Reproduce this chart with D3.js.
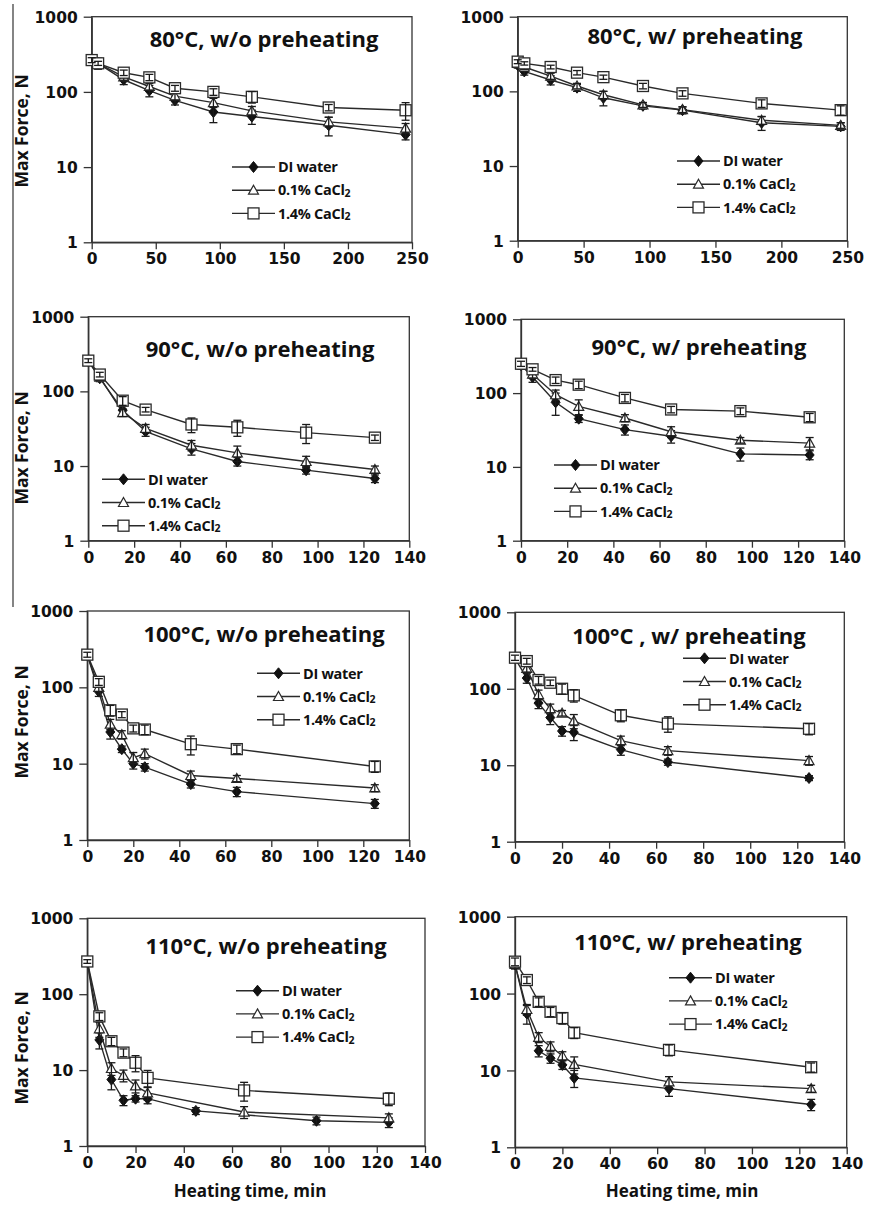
<!DOCTYPE html>
<html>
<head>
<meta charset="utf-8">
<script src="https://cdn.jsdelivr.net/npm/d3@7"></script>
<style>
  body { margin: 0; background: #fff; }
  text { fill: #111; }
</style>
</head>
<body>
<svg id="chart" width="869" height="1206"></svg>
<script>
// legend names (the "2" of CaCl2 is drawn as a small tspan)
var seriesNames = ["DI water", "0.1% CaCl", "1.4% CaCl"];
var yTicks = [1, 10, 100, 1000];
var xTicks80 = [0, 50, 100, 150, 200, 250];
var xTicks140 = [0, 20, 40, 60, 80, 100, 120, 140];

// 80°C
var t80 = [0, 5, 25, 45, 65, 95, 125, 185, 245];
var di80wo = [265, 240, 145, 104, 77, 54, 47, 36, 27];
var ca01_80wo = [265, 240, 158, 118, 88, 72, 56, 40, 33];
var ca14_80wo = [265, 240, 180, 156, 112, 100, 86, 62, 57];
var di80wo_sd = [25, 40, 20, 18, 10, 15, 10, 10, 4];
var ca01_80wo_sd = [20, 25, 15, 12, 10, 10, 8, 6, 5];
var ca14_80wo_sd = [20, 15, 15, 15, 10, 10, 15, 6, 15];

var di80w = [225, 185, 142, 112, 82, 64, 56, 38, 34];
var ca01_80w = [237, 212, 160, 118, 90, 66, 57, 41, 35];
var ca14_80w = [250, 237, 212, 178, 155, 118, 94, 69, 56];
var di80w_sd = [20, 20, 20, 12, 18, 6, 6, 8, 4];
var ca01_80w_sd = [15, 15, 15, 10, 10, 5, 5, 5, 3];
var ca14_80w_sd = [15, 12, 12, 12, 10, 10, 8, 8, 8];

// 90°C
var t90 = [0, 5, 15, 25, 45, 65, 95, 125];
var di90wo = [255, 150, 56, 29, 17, 11.5, 8.8, 6.8];
var ca01_90wo = [255, 155, 52, 32, 19, 15, 11.5, 9];
var ca14_90wo = [258, 168, 75, 57, 36, 33, 28, 24];
var di90wo_sd = [15, 15, 8, 4, 3, 1.5, 1, 0.8];
var ca01_90wo_sd = [15, 15, 6, 4, 3, 3.5, 2, 1];
var ca14_90wo_sd = [15, 12, 10, 4, 8, 8, 8, 2];

var di90w = [240, 165, 75, 45, 32, 26, 15, 14.5];
var ca01_90w = [245, 180, 95, 66, 46, 30, 23, 21];
var ca14_90w = [250, 210, 150, 130, 86, 60, 57, 47];
var di90w_sd = [30, 25, 25, 5, 5, 5, 3, 2];
var ca01_90w_sd = [20, 20, 15, 15, 5, 5, 2, 4];
var ca14_90w_sd = [20, 12, 15, 15, 10, 6, 6, 6];

// 100°C
var t100 = [0, 5, 10, 15, 20, 25, 45, 65, 125];
var di100wo = [265, 88, 26, 15.5, 10, 9, 5.4, 4.3, 3.0];
var ca01_100wo = [265, 100, 33, 24, 12, 13.5, 7, 6.4, 4.8];
var ca14_100wo = [268, 118, 50, 44, 29, 28, 18, 15.5, 9.2];
var di100wo_sd = [20, 12, 5, 1.5, 1.5, 1, 0.6, 0.6, 0.4];
var ca01_100wo_sd = [20, 12, 5, 3, 2, 2, 1, 0.6, 0.5];
var ca14_100wo_sd = [20, 12, 8, 4, 3, 4, 5, 2, 1.5];

var di100w = [250, 138, 65, 42, 28, 27, 16, 11, 6.8];
var ca01_100w = [255, 185, 84, 55, 48, 38, 21, 15.5, 11.5];
var ca14_100w = [255, 230, 130, 120, 100, 82, 45, 35, 30];
var di100w_sd = [20, 20, 10, 8, 4, 6, 2.5, 1, 0.5];
var ca01_100w_sd = [20, 20, 12, 8, 4, 8, 3, 2, 1.5];
var ca14_100w_sd = [20, 20, 15, 10, 15, 15, 8, 8, 5];

// 110°C
var t110di = [0, 5, 10, 15, 20, 25, 45, 95, 125];
var t110 = [0, 5, 10, 15, 20, 25, 65, 125];
var di110wo = [268, 25, 7.5, 4.0, 4.2, 4.2, 2.9, 2.15, 2.05];
var ca01_110wo = [268, 35, 10.5, 8.5, 6.2, 5.0, 2.8, 2.35];
var ca14_110wo = [270, 51, 24, 17, 12.5, 7.9, 5.4, 4.2];
var di110wo_sd = [20, 6, 2, 0.6, 0.4, 0.6, 0.3, 0.25, 0.3];
var ca01_110wo_sd = [15, 8, 2, 1.5, 1.2, 1, 0.5, 0.3];
var ca14_110wo_sd = [15, 6, 3, 2, 3, 2, 1.5, 0.8];

var di110w = [240, 55, 18, 14.4, 11.8, 8.0, 5.8, 3.6];
var ca01_110w = [240, 62, 27, 20.5, 15.5, 12, 7.1, 5.8];
var ca14_110w = [260, 150, 78, 58, 48, 31, 18.5, 11];
var di110w_sd = [30, 15, 3, 2, 1.5, 2, 1.2, 0.6];
var ca01_110w_sd = [30, 10, 4, 3, 2, 3, 1.2, 0.6];
var ca14_110w_sd = [30, 15, 10, 8, 8, 5, 3, 1.5];

var shapes = ["diamond", "triangle", "square"];

function trio(tA, a, ae, tB, b, be, tC, c, ce) {
    return [{t: tA, v: a, e: ae}, {t: tB, v: b, e: be}, {t: tC, v: c, e: ce}];
}

var panels = [
    {title: "80°C, w/o preheating", tx: 264, ty: 47, l: 91.7, r: 412, t: 16.7, b: 242.3, xMax: 250, xTicks: xTicks80,
     lx: 232, ly: 167, yLabel: 131,
     series: trio(t80, di80wo, di80wo_sd, t80, ca01_80wo, ca01_80wo_sd, t80, ca14_80wo, ca14_80wo_sd)},
    {title: "80°C, w/ preheating", tx: 695, ty: 43.5, l: 517.7, r: 847.3, t: 16.7, b: 240.7, xMax: 250, xTicks: xTicks80,
     lx: 677, ly: 161,
     series: trio(t80, di80w, di80w_sd, t80, ca01_80w, ca01_80w_sd, t80, ca14_80w, ca14_80w_sd)},
    {title: "90°C, w/o preheating", tx: 260, ty: 357, l: 88.3, r: 409.3, t: 316.7, b: 540.7, xMax: 140, xTicks: xTicks140,
     lx: 102, ly: 479.3, yLabel: 448,
     series: trio(t90, di90wo, di90wo_sd, t90, ca01_90wo, ca01_90wo_sd, t90, ca14_90wo, ca14_90wo_sd)},
    {title: "90°C, w/ preheating", tx: 699, ty: 355, l: 521, r: 844.3, t: 319.3, b: 540.7, xMax: 140, xTicks: xTicks140,
     lx: 554, ly: 465,
     series: trio(t90, di90w, di90w_sd, t90, ca01_90w, ca01_90w_sd, t90, ca14_90w, ca14_90w_sd)},
    {title: "100°C, w/o preheating", tx: 264, ty: 642, l: 87.3, r: 409.3, t: 611, b: 840, xMax: 140, xTicks: xTicks140,
     lx: 257, ly: 673.3, yLabel: 722,
     series: trio(t100, di100wo, di100wo_sd, t100, ca01_100wo, ca01_100wo_sd, t100, ca14_100wo, ca14_100wo_sd)},
    {title: "100°C , w/ preheating", tx: 689, ty: 643.5, l: 515, r: 844.3, t: 612.3, b: 841.7, xMax: 140, xTicks: xTicks140,
     lx: 683, ly: 658.3,
     series: trio(t100, di100w, di100w_sd, t100, ca01_100w, ca01_100w_sd, t100, ca14_100w, ca14_100w_sd)},
    {title: "110°C, w/o preheating", tx: 266, ty: 953.5, l: 87.3, r: 425, t: 918.3, b: 1146, xMax: 140, xTicks: xTicks140,
     lx: 236, ly: 990.7, yLabel: 1048, xLabel: 250,
     series: trio(t110di, di110wo, di110wo_sd, t110, ca01_110wo, ca01_110wo_sd, t110, ca14_110wo, ca14_110wo_sd)},
    {title: "110°C, w/ preheating", tx: 688, ty: 950, l: 515, r: 846.7, t: 916.7, b: 1147.3, xMax: 140, xTicks: xTicks140,
     lx: 669, ly: 977.7, xLabel: 682,
     series: trio(t110, di110w, di110w_sd, t110, ca01_110w, ca01_110w_sd, t110, ca14_110w, ca14_110w_sd)}
];

var ink = "#2a2a2a";
var svg = d3.select("#chart");

// thin rule along the left edge of the upper half
svg.append("line").attr("x1", 13).attr("x2", 13).attr("y1", 4).attr("y2", 607)
    .attr("stroke", "#333").attr("stroke-width", 1.2);

function marker(sel, shape) {
    if (shape === "diamond") {
        sel.append("path").attr("d", "M0,-5.5L4.5,0L0,5.5L-4.5,0Z").attr("fill", "#111").attr("stroke", "#111");
    } else if (shape === "triangle") {
        sel.append("path").attr("d", "M0,-5L5,4L-5,4Z").attr("fill", "#fff").attr("stroke", ink).attr("stroke-width", 1.2);
    } else {
        sel.append("rect").attr("x", -5.5).attr("y", -5.5).attr("width", 11).attr("height", 11)
            .attr("fill", "#fff").attr("stroke", ink).attr("stroke-width", 1.3);
    }
}

panels.forEach(function (p) {
    var x = d3.scaleLinear().domain([0, p.xMax]).range([p.l, p.r]);
    var y = d3.scaleLog().domain([1, 1000]).range([p.b, p.t]);
    var g = svg.append("g");

    g.append("rect").attr("x", p.l).attr("y", p.t).attr("width", p.r - p.l).attr("height", p.b - p.t)
        .attr("fill", "none").attr("stroke", "#333").attr("stroke-width", 1.3);

    var xa = g.append("g").attr("transform", "translate(0," + p.b + ")")
        .call(d3.axisBottom(x).tickValues(p.xTicks).tickSize(7).tickSizeOuter(0).tickPadding(4).tickFormat(d3.format("d")));
    var ya = g.append("g").attr("transform", "translate(" + p.l + ",0)")
        .call(d3.axisLeft(y).tickValues(yTicks).tickSize(8).tickSizeOuter(0).tickPadding(6).tickFormat(d3.format("d")));
    [xa, ya].forEach(function (a) {
        a.selectAll("path, line").attr("stroke", "#333").attr("stroke-width", 1.3);
        a.selectAll("text").attr("font-family", "DejaVu Sans").attr("font-weight", "bold")
            .attr("font-size", 15.5).attr("fill", "#111");
    });
    ya.selectAll("text").attr("dy", "0.36em");

    var line = d3.line().x(function (d) { return x(d.t); }).y(function (d) { return y(d.v); });

    p.series.forEach(function (s, i) {
        var pts = s.t.map(function (t, k) { return {t: t, v: s.v[k], e: s.e[k]}; });
        g.append("path").datum(pts).attr("d", line).attr("fill", "none")
            .attr("stroke", ink).attr("stroke-width", 1.4);
        pts.forEach(function (d) {
            marker(g.append("g").attr("transform", "translate(" + x(d.t) + "," + y(d.v) + ")"), shapes[i]);
        });
        var eb = g.append("g").attr("stroke", "#1a1a1a").attr("stroke-width", 1.3);
        pts.forEach(function (d) {
            var cx = x(d.t), y1 = y(d.v + d.e), y2 = y(Math.max(d.v - d.e, 1.01));
            eb.append("line").attr("x1", cx).attr("x2", cx).attr("y1", y1).attr("y2", y2);
            eb.append("line").attr("x1", cx - 4).attr("x2", cx + 4).attr("y1", y1).attr("y2", y1);
            eb.append("line").attr("x1", cx - 4).attr("x2", cx + 4).attr("y1", y2).attr("y2", y2);
        });
    });

    // legend
    seriesNames.forEach(function (name, i) {
        var ry = p.ly + i * 23.2;
        g.append("line").attr("x1", p.lx).attr("x2", p.lx + 43).attr("y1", ry).attr("y2", ry)
            .attr("stroke", ink).attr("stroke-width", 1.4);
        marker(g.append("g").attr("transform", "translate(" + (p.lx + 21.5) + "," + ry + ")"), shapes[i]);
        var t = g.append("text").attr("x", p.lx + 46).attr("y", ry).attr("dy", "0.36em")
            .attr("font-family", "Open Sans").attr("font-weight", "bold").attr("font-size", 14.5)
            .attr("letter-spacing", -0.3).text(name);
        if (i > 0) t.append("tspan").attr("font-size", 10.5).attr("dy", 1.5).text("2");
    });

    g.append("text").attr("x", p.tx).attr("y", p.ty).attr("text-anchor", "middle")
        .attr("font-family", "Open Sans").attr("font-weight", "bold").attr("font-size", 22).text(p.title);

    if (p.yLabel) {
        g.append("text").attr("transform", "translate(28," + p.yLabel + ") rotate(-90)")
            .attr("text-anchor", "middle").attr("font-family", "Open Sans").attr("font-weight", "bold")
            .attr("font-size", 17.5).text("Max Force, N");
    }
    if (p.xLabel) {
        g.append("text").attr("x", p.xLabel).attr("y", 1197).attr("text-anchor", "middle")
            .attr("font-family", "Open Sans").attr("font-weight", "bold").attr("font-size", 17).text("Heating time, min");
    }
});
</script>
</body>
</html>
